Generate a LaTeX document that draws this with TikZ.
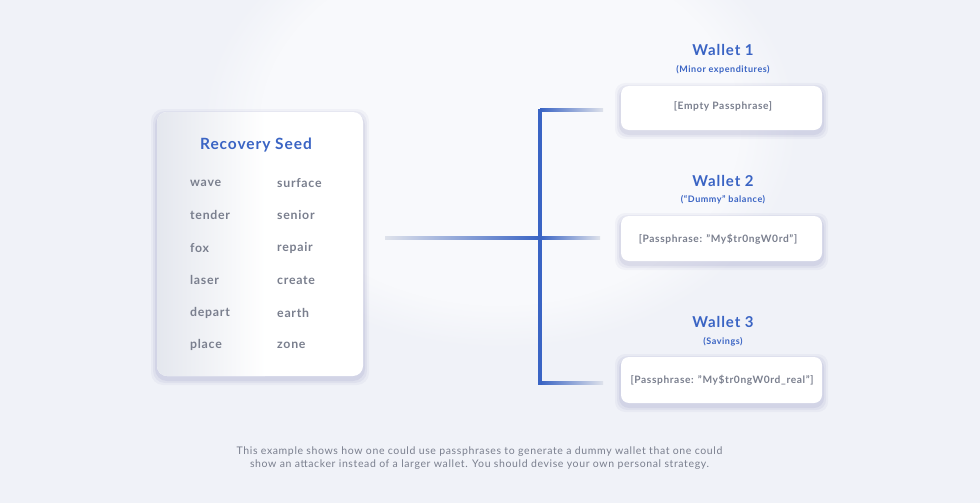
\documentclass[tikz,border=0pt]{standalone}
\usepackage{fontspec}
\setmainfont[LetterSpace=6]{Lato}
\usetikzlibrary{fadings}
\definecolor{bg}{RGB}{240,242,248}
\definecolor{bgc}{RGB}{248,249,252}
\definecolor{accent}{RGB}{58,100,196}
\definecolor{wordgray}{RGB}{122,127,142}
\definecolor{seedgray}{RGB}{228,231,238}
\definecolor{fadegray}{RGB}{205,210,222}
\tikzset{
  x=1pt,y=-1pt,
  card/.style={fill=white, rounded corners=8pt},
  word/.style={anchor=west, inner sep=0pt, text=wordgray, font=\fontsize{12.3}{14}\selectfont\bfseries},
  wtitle/.style={text=accent, font=\fontsize{15}{18}\selectfont\bfseries},
  wsub/.style={text=accent, font=\fontsize{9}{10}\selectfont\bfseries},
  ctext/.style={text=wordgray, font=\fontsize{10.2}{12}\selectfont\bfseries},
  caption/.style={text=wordgray, font=\fontsize{10.5}{13}\selectfont, align=center},
}
\begin{document}
\begin{tikzpicture}
\useasboundingbox (0,0) rectangle (980,503);
% background
\fill[bg] (0,0) rectangle (980,503);
\fill[bgc, path fading=circle with fuzzy edge 20 percent] (200,-100) rectangle (800,350);
% shadows
\foreach \o/\a in {6/0.03,4/0.04,2/0.05}{
  \fill[black!60!blue, opacity=\a, rounded corners=12pt] (157-\o,112-\o+3) rectangle (363+\o,376+\o+3);
  \fill[black!60!blue, opacity=\a, rounded corners=10pt] (621-\o,86-\o+3) rectangle (822+\o,130+\o+3);
  \fill[black!60!blue, opacity=\a, rounded corners=10pt] (621-\o,216-\o+3) rectangle (822+\o,261+\o+3);
  \fill[black!60!blue, opacity=\a, rounded corners=10pt] (621-\o,357-\o+3) rectangle (822+\o,403+\o+3);
}
% seed card
\path[card, rounded corners=10pt] (157,112) rectangle (363,376);
\node[inner sep=0, minimum width=206pt, minimum height=264pt] (seed) at (260,244) {};
\begin{scope}
  \clip[rounded corners=10pt] (157,112) rectangle (363,376);
  \shade[left color=seedgray, right color=white] (157,112) rectangle (265,376);
\end{scope}
\node[wtitle, font=\fontsize{15.5}{18}\selectfont\bfseries] (seedtitle) at (256,145) {Recovery Seed};
\node[word] (w1) at (190,183) {wave};
\node[word] (w2) at (190,215) {tender};
\node[word] (w3) at (190,248) {fox};
\node[word] (w4) at (190,280) {laser};
\node[word] (w5) at (190,313) {depart};
\node[word] (w6) at (190,345) {place};
\node[word] (w7) at (277,183) {surface};
\node[word] (w8) at (277,215) {senior};
\node[word] (w9) at (277,248) {repair};
\node[word] (w10) at (277,280) {create};
\node[word] (w11) at (277,313) {earth};
\node[word] (w12) at (277,345) {zone};
% wallet cards
\node[card, minimum width=201pt, minimum height=44pt, inner sep=0] (c1) at (721.5,108) {};
\node[card, minimum width=201pt, minimum height=45pt, inner sep=0] (c2) at (721.5,238.5) {};
\node[card, minimum width=201pt, minimum height=46pt, inner sep=0] (c3) at (721.5,380) {};
\node[ctext] (t1) at (723,106) {[Empty Passphrase]};
\node[ctext] (t2) at (718,239) {[Passphrase: "My\$tr0ngW0rd"]};
\node[ctext] (t3) at (722,380) {[Passphrase: "My\$tr0ngW0rd\_real"]};
\node[wtitle] (h1) at (723,50) {Wallet 1};
\node[wsub] (s1) at (723,70) {(Minor expenditures)};
\node[wtitle] (h2) at (723,181) {Wallet 2};
\node[wsub] (s2) at (723,200) {(“Dummy” balance)};
\node[wtitle] (h3) at (723,322) {Wallet 3};
\node[wsub] (s3) at (723,342) {(Savings)};
% connectors
\coordinate (hub) at (540,238);
\coordinate (src) at (385,238);
\coordinate (top) at (540,110);
\coordinate (bot) at (540,383);
\shade[left color=fadegray!50!bg, right color=accent] (src) ++(0,-1.5) rectangle ++(155,3);
\shade[left color=accent, right color=fadegray!50!bg] (top) ++(0,-1.5) rectangle ++(63,3);
\shade[left color=accent, right color=fadegray!50!bg] (hub) ++(0,-1.5) rectangle ++(60,3);
\shade[left color=accent, right color=fadegray!50!bg] (bot) ++(0,-1.5) rectangle ++(63,3);
\draw[accent, line width=4pt] (top) ++(0,-1.5) -- ([yshift=-1.5pt]bot);
% caption
\node[caption] (cap) at (479.5,458.5) {This example shows how one could use passphrases to generate a dummy wallet that one could\\show an attacker instead of a larger wallet. You should devise your own personal strategy.};
\end{tikzpicture}
\end{document}
